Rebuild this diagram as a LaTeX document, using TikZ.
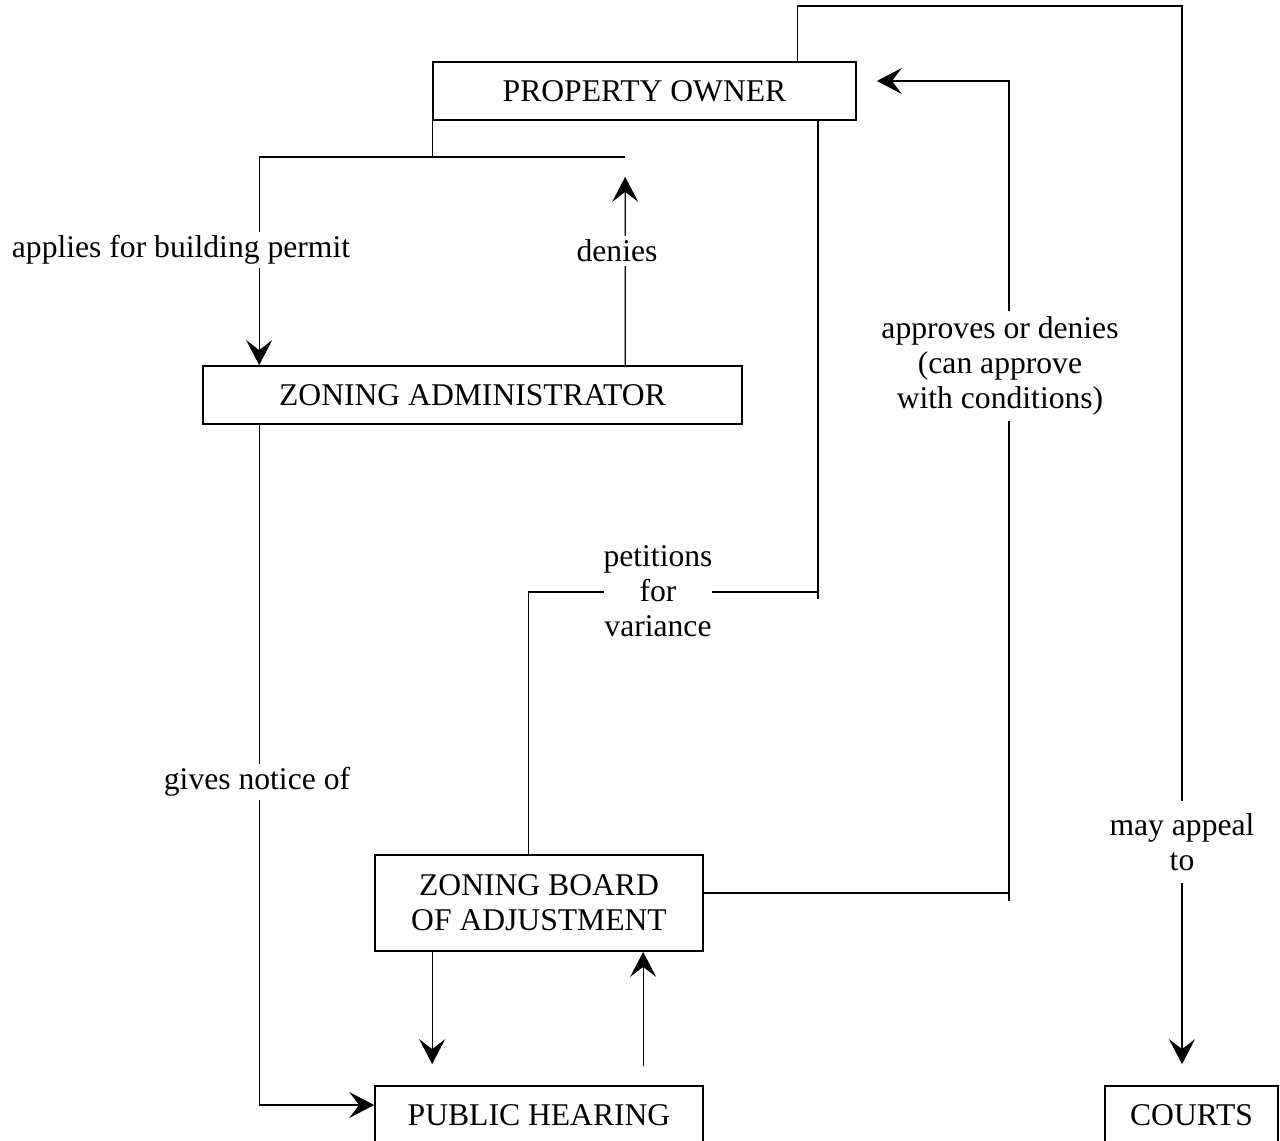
\documentclass[tikz,border=0pt]{standalone}
\usepackage{fontspec}
\setmainfont{Liberation Serif}
\usetikzlibrary{arrows.meta,positioning,calc,backgrounds}

\begin{document}
\begin{tikzpicture}[x=0.02cm,y=-0.02cm,font=\fontsize{18}{20}\selectfont,
  box/.style={draw,line width=1pt,inner sep=0pt,minimum height=1.16cm,align=center},
  lbl/.style={fill=white,inner xsep=0pt,inner ysep=2pt,align=center},
  link/.style={line width=0.75pt},
  arr/.style={link,-{Stealth[length=0.5cm,width=0.52cm,inset=0.2cm]}}]
\useasboundingbox (0,0) rectangle (1280,1141);
% boxes
\node[box,minimum width=8.46cm] (po) at (644.5,91) {PROPERTY OWNER};
\node[box,minimum width=10.78cm] (za) at (472.5,395) {ZONING ADMINISTRATOR};
\node[box,minimum width=6.56cm,minimum height=1.92cm] (zba) at (539,903) {ZONING BOARD\\OF ADJUSTMENT};
\node[box,minimum width=6.56cm] (ph) at (539,1115) {PUBLIC HEARING};
\node[box,minimum width=3.46cm] (courts) at (1191.5,1115) {COURTS};
% labels
\node[lbl] (applies) at (181,250) {applies for building permit};
\node[lbl] (denies) at (617,251) {denies};
\node[lbl] (notice) at (257,782) {gives notice of};
\node[lbl] (petitions) at (658,591) {petitions\\for\\variance};
\node[lbl,inner ysep=3pt] (approves) at (1000,366) {approves or denies\\(can approve\\with conditions)};
\node[lbl,inner ysep=0.25cm] (appeal) at (1182,842) {may appeal\\to};
\coordinate (split) at ($(po.south west)+(0,36)$);
\begin{scope}[on background layer]
  \draw[link] (po.south west) -- (split);
  \draw[arr] ($(split)+(193,0)$) -| ($(za.north west)+(57,0)$);
  \draw[arr] ($(za.north west)+(423,0)$) -- ($(split)+(193,20)$);
  \draw[arr] ($(za.south west)+(57,0)$) |- ($(ph.west)+(0,-10)$);
  \draw[link] ($(po.south east)+(-39,0)$) -- ++(0,478);
  \draw[link] ($(zba.north west)+(154,0)$) |- ($(po.south east)+(-39,471)$);
  \draw[link] ($(zba.east)+(0,-10)$) -- ++(305,0);
  \draw[arr] ($(zba.east)+(305,-2)$) |- ($(po.east)+(20,-10)$);
  \draw[arr] ($(po.north west)+(365,0)$) -- ++(0,-55) -| ($(courts.north)+(-9.5,-21)$);
  \draw[arr] ($(zba.south west)+(58,0)$) -- ($(ph.north west)+(58,-21)$);
  \draw[arr] ($(ph.north west)+(269,-19)$) -- ($(zba.south west)+(269,0)$);
\end{scope}
\end{tikzpicture}
\end{document}
